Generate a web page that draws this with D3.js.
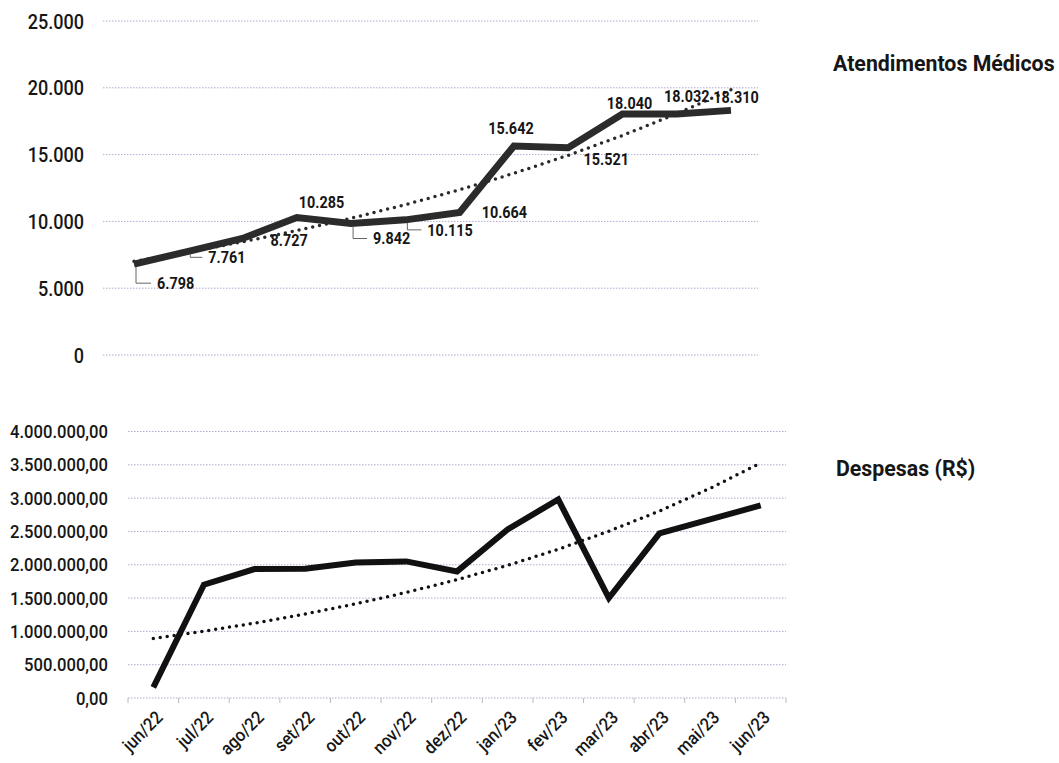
<!DOCTYPE html>
<html>
<head>
<meta charset="utf-8">
<script src="https://cdn.jsdelivr.net/npm/d3@7"></script>
<style>
  body { margin: 0; background: #fff; }
  svg { display: block; font-family: Roboto, "Noto Sans", sans-serif; }
</style>
</head>
<body>
<svg id="chart" width="1059" height="763"></svg>
<script>
// data
var topMonths = ["jun/22","jul/22","ago/22","set/22","out/22","nov/22","dez/22","jan/23","fev/23","mar/23","abr/23","mai/23"];
var atendimentos = [6798, 7761, 8727, 10285, 9842, 10115, 10664, 15642, 15521, 18040, 18032, 18310];
var topTicks = [0, 5000, 10000, 15000, 20000, 25000];

var bottomMonths = ["jun/22","jul/22","ago/22","set/22","out/22","nov/22","dez/22","jan/23","fev/23","mar/23","abr/23","mai/23","jun/23"];
var despesas = [160000, 1700000, 1935000, 1940000, 2035000, 2050000, 1900000, 2530000, 2980000, 1500000, 2470000, 2680000, 2890000];
var bottomTicks = [0, 500000, 1000000, 1500000, 2000000, 2500000, 3000000, 3500000, 4000000];

// label placement for the top chart: [dx, dy, anchor, leader?]
var labelPlace = [
  [23, 19, "start", true], [20, 6, "start", true], [28, 2, "start", false], [2, -15, "start", false],
  [22, 15, "start", true], [22, 10, "start", true], [22, 0, "start", false], [-3, -18, "middle", false],
  [38, 12, "middle", false], [7, -11, "middle", false], [10, -18, "middle", false], [5, -13, "middle", false]
];

var svg = d3.select("#chart");
var loc = d3.formatLocale({decimal: ",", thousands: ".", grouping: [3], currency: ["R$", ""]});
var fmtTop = loc.format(",d");
var fmtBottom = loc.format(",.2f");

// exponential trend (least squares on ln y), like the spreadsheet one
function expTrend(vals) {
  var n = vals.length;
  var xs = d3.range(n), ls = vals.map(function(v) { return Math.log(v); });
  var mx = d3.mean(xs), ml = d3.mean(ls);
  var sxy = d3.sum(xs, function(x, i) { return (x - mx) * (ls[i] - ml); });
  var sxx = d3.sum(xs, function(x) { return (x - mx) * (x - mx); });
  var b = sxy / sxx, a = ml - b * mx;
  return xs.map(function(x) { return Math.exp(a + b * x); });
}

function grid(g, y, ticks, x0, x1) {
  g.selectAll("line.grid").data(ticks).enter().append("line")
    .attr("class", "grid")
    .attr("x1", x0).attr("x2", x1)
    .attr("y1", function(d) { return y(d); })
    .attr("y2", function(d) { return y(d); })
    .attr("stroke", "#b3a8d0")
    .attr("stroke-width", 1)
    .attr("stroke-dasharray", "1.5,1.5");
}

// narrow text: the original uses a condensed face
function narrowText(g, x, y, str, size, sx, anchor, weight) {
  return g.append("text")
    .attr("transform", "translate(" + x + "," + y + ") scale(" + sx + ",1)")
    .attr("dy", "0.36em")
    .attr("text-anchor", anchor)
    .attr("font-size", size)
    .attr("font-weight", weight || 500)
    .attr("fill", "#161616")
    .text(str);
}

// ---------- top chart ----------
var xTop = d3.scalePoint().domain(topMonths).range([134, 731]);
var yTop = d3.scaleLinear().domain([0, 25000]).range([355, 21]);

var gTop = svg.append("g");
grid(gTop, yTop, topTicks, 103, 758);

topTicks.forEach(function(t) {
  narrowText(gTop, 84, yTop(t), fmtTop(t), 21, 0.86, "end");
});

var topTrend = expTrend(atendimentos);
gTop.append("path")
  .datum(topTrend)
  .attr("fill", "none")
  .attr("stroke", "#2a2a2a")
  .attr("stroke-width", 3.5)
  .attr("stroke-linecap", "round")
  .attr("stroke-dasharray", "0,7")
  .attr("d", d3.line().x(function(d, i) { return xTop(topMonths[i]); }).y(function(d) { return yTop(d); }));

gTop.append("path")
  .datum(atendimentos)
  .attr("fill", "none")
  .attr("stroke", "#2b2b2b")
  .attr("stroke-width", 7)
  .attr("d", d3.line().x(function(d, i) { return xTop(topMonths[i]); }).y(function(d) { return yTop(d); }));

atendimentos.forEach(function(v, i) {
  var px = xTop(topMonths[i]), py = yTop(v), p = labelPlace[i];
  if (p[3]) {
    gTop.append("path")
      .attr("fill", "none")
      .attr("stroke", "#666")
      .attr("stroke-width", 1)
      .attr("d", "M" + (px + 2) + "," + (py + 3) + "V" + (py + p[1]) + "H" + (px + p[0] - 6));
  }
  narrowText(gTop, px + p[0], py + p[1], fmtTop(v), 16, 0.9, p[2], "bold");
});

narrowText(svg, 833, 63, "Atendimentos Médicos", 22, 0.97, "start", "bold");

// ---------- bottom chart ----------
var xBot = d3.scaleBand().domain(bottomMonths).range([128, 786]);
var yBot = d3.scaleLinear().domain([0, 4000000]).range([698, 431.5]);

var gBot = svg.append("g");
grid(gBot, yBot, bottomTicks, 128, 786);

bottomTicks.forEach(function(t) {
  narrowText(gBot, 108, yBot(t), fmtBottom(t), 18.5, 0.9, "end");
});

// category tick marks on the x axis
var bounds = bottomMonths.map(function(m) { return xBot(m); }).concat([xBot.range()[1]]);
gBot.selectAll("line.xt").data(bounds).enter().append("line")
  .attr("x1", function(d) { return d; }).attr("x2", function(d) { return d; })
  .attr("y1", 698).attr("y2", 703)
  .attr("stroke", "#bbb").attr("stroke-width", 1);

gBot.selectAll("text.xl").data(bottomMonths).enter().append("text")
  .attr("transform", function(d) { return "translate(" + (xBot(d) + xBot.bandwidth() / 2 + 6) + ",714) rotate(-45) scale(0.92,1)"; })
  .attr("text-anchor", "end")
  .attr("dy", "0.36em")
  .attr("font-size", 18)
  .attr("font-weight", 500)
  .attr("fill", "#161616")
  .text(function(d) { return d; });

var cx = function(d, i) { return xBot(bottomMonths[i]) + xBot.bandwidth() / 2; };

var botTrend = expTrend(despesas);
gBot.append("path")
  .datum(botTrend)
  .attr("fill", "none")
  .attr("stroke", "#111")
  .attr("stroke-width", 3.5)
  .attr("stroke-linecap", "round")
  .attr("stroke-dasharray", "0,7")
  .attr("d", d3.line().x(cx).y(function(d) { return yBot(d); }));

gBot.append("path")
  .datum(despesas)
  .attr("fill", "none")
  .attr("stroke", "#111")
  .attr("stroke-width", 6)
  .attr("d", d3.line().x(cx).y(function(d) { return yBot(d); }));

narrowText(svg, 836, 468, "Despesas (R$)", 22, 0.97, "start", "bold");
</script>
</body>
</html>
